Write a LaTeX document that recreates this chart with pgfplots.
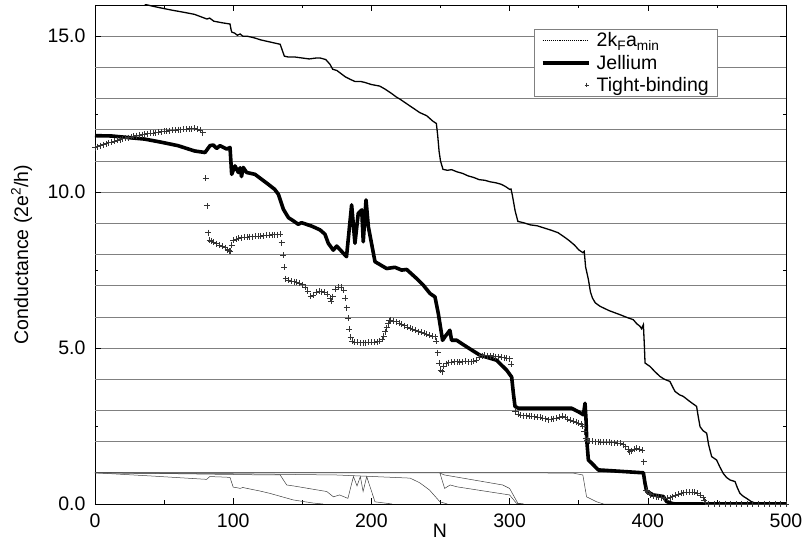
\documentclass[border=0pt]{standalone}
\usepackage{fontspec}
\setmainfont{Liberation Sans}
\usepackage{pgfplots}
\pgfplotsset{compat=1.18}
\definecolor{gridgray}{gray}{0.5}
\definecolor{tbgray}{gray}{0.2}
\definecolor{chgray}{gray}{0.25}
\newcommand{\bigf}{\fontsize{19.5bp}{22bp}\selectfont}
\begin{document}
\begin{tikzpicture}
\begin{axis}[
  at={(0,0)}, anchor=south west,
  scale only axis, width=691bp, height=499bp,
  xmin=0, xmax=500, ymin=0, ymax=16,
  xtick={0,100,200,300,400,500}, xticklabels={0,100,200,300,400,500},
  ytick={0,5,10,15}, yticklabels={0.0,5.0,10.0,15.0},
  minor xtick={50,150,250,350,450}, minor ytick={2.5,7.5,12.5},
  tick align=inside, major tick length=6bp, minor tick length=3.5bp,
  ymajorgrids, grid style={gridgray, line width=0.7bp},
  extra y ticks={1,2,3,4,6,7,8,9,11,12,13,14},
  extra y tick labels={},
  extra y tick style={grid=major, major tick length=0pt},
  axis line style={line width=0.6bp},
  tick style={line width=0.6bp, black},
  tick label style={font=\bigf},
  yticklabel style={xshift=-6bp},
  xticklabel style={yshift=-6bp},
  xlabel={N}, ylabel={Conductance (2e\textsuperscript{2}/h)},
  label style={font=\bigf},
  xlabel style={at={(axis description cs:0.499,-0.054)}, anchor=center},
  ylabel style={at={(axis description cs:-0.106,0.5)}, anchor=center},
  legend style={at={(0.9016,0.9519)}, anchor=north east, draw=gridgray, line width=0.6bp,
    font=\bigf, inner xsep=7bp, inner ysep=1.5bp, row sep=2.5bp},
  legend cell align=left,
]
% individual channel transmissions
\addplot[chgray, line width=0.5bp, forget plot] coordinates {
(0,1.0) (100,1.0) (200,1.0) (300,1.0) (346,0.99) (353,0.93) (355.7,0.23) (363,0.07) (368,0) (500,0)};
\addplot[chgray, line width=0.5bp, forget plot] coordinates {
(0,1.0) (40,0.9) (80.8,0.79) (83,0.88) (95,0.86) (97.7,0.85) (100,0.54) (103,0.52) (105,0.5) (107,0.53) (110,0.5) (119,0.42) (126.6,0.34) (143.5,0.13) (158,0.03) (165,0)};
\addplot[chgray, line width=0.5bp, forget plot] coordinates {
(0,1.0) (60,0.97) (126.6,0.93) (134,0.93) (138.7,0.61) (143.5,0.58) (167.7,0.40) (172.5,0.23) (177,0.29) (183,0.18) (187,0.88) (189.6,0.58) (192,0.88) (194,0.40) (196.6,0.88) (202.6,0.07) (208,0.04) (215,0)};
\addplot[chgray, line width=0.5bp, forget plot] coordinates {
(0,1.0) (100,0.97) (175,0.93) (228,0.83) (235,0.68) (242,0.45) (249.6,0.07) (255,0)};
\addplot[chgray, line width=0.5bp, forget plot] coordinates {
(249.6,0.99) (253,0.93) (295,0.61) (300,0.50) (306,0.02) (310,0)};
\addplot[chgray, line width=0.5bp, forget plot] coordinates {
(249.6,0.99) (253,0.5) (257,0.61) (262,0.55) (300,0.29) (305,0.02) (310,0)};
% 2kFamin
\addplot[black, line width=1.3bp,
  legend image code/.code={\draw[black, densely dotted, line width=1.1bp] (0bp,0bp) -- (46bp,0bp);
    \path[draw=none, fill=none] (0bp,0bp) -- (52bp,0bp);}]
coordinates {
(36,16.02) (45,15.93) (55,15.84) (65,15.76) (72,15.7) (78,15.6) (81,15.55) (83,15.58) (86,15.48)
(92,15.43) (97.7,15.39) (98.5,15.2) (99,15.13) (101,15.1) (103,15.03) (105,15.07) (107,15.0)
(110,15.0) (115,14.95) (120,14.88) (125,14.83) (130,14.78) (134,14.74) (135.5,14.55) (137,14.36)
(140,14.33) (145,14.33) (150,14.3) (155,14.27) (160,14.3) (163,14.3) (167,14.25) (170,14.1)
(172,13.94) (175,13.9) (178,13.8) (181,13.7) (184.5,13.62) (188,13.55) (192,13.55) (195,13.52)
(200,13.45) (206,13.4) (210,13.3) (215,13.15) (218,13.05) (220.7,12.98) (225,12.85) (230,12.7)
(235,12.55) (240,12.45) (244.6,12.27) (246,12.23) (247,12.2) (248,11.8) (249,11.3) (250,11.0)
(251.8,10.73) (255,10.7) (258,10.72) (262,10.65) (266,10.6) (270,10.52) (274,10.47) (278,10.4)
(282,10.38) (286,10.33) (290,10.3) (294,10.25) (297,10.18) (300,10.09) (301,10.1) (302,9.9)
(304,9.4) (306,9.06) (310,9.02) (315,8.95) (320,8.92) (325,8.85) (330,8.78) (335,8.7) (339,8.58)
(343,8.45) (347,8.3) (350,8.15) (353,8.06) (354,8.1) (355,7.6) (357,7.2) (358.5,6.8) (360,6.6)
(362,6.45) (365.4,6.34) (372,6.2) (379.9,6.07) (385,5.98) (389.5,5.91) (392,5.78) (394.3,5.7)
(395.5,5.62) (396.8,5.75) (397.5,5.1) (398,4.52) (401.6,4.41) (405,4.25) (408.8,4.09) (412,4.0)
(416,3.93) (418,3.75) (419.7,3.61) (423,3.5) (425.7,3.45) (430,3.3) (435.3,3.13) (436.5,2.8)
(437.8,2.48) (440,2.35) (442.6,2.27) (444,1.9) (446.2,1.52) (449.8,1.41) (452,1.2) (454.6,0.98)
(457,0.85) (459.5,0.77) (463.1,0.72) (465,0.5) (466.7,0.34) (469,0.25) (471.5,0.18) (475.1,0.07)
(478.8,0.02) (482,0) (500,0)};
\addlegendentry{2k\textsubscript{F}a\textsubscript{min}}
% Jellium
\addplot[black, line width=3.6bp, line join=round,
  legend image code/.code={\draw[black, line width=3.6bp] (0bp,0bp) -- (46bp,0bp);
    \path[draw=none, fill=none] (0bp,0bp) -- (52bp,0bp);}]
coordinates {
(0,11.81) (12,11.8) (24,11.75) (36,11.7) (48,11.6) (60,11.49) (72,11.32) (79.6,11.27) (83.2,11.49)
(85.6,11.51) (88,11.4) (90.4,11.49) (95.3,11.38) (97.7,11.43) (98.9,10.57) (101.3,10.84)
(103.7,10.63) (105,10.78) (106,10.5) (107.3,10.79) (109.7,10.63) (115.8,10.57) (125.4,10.25)
(130,10.09) (132.7,9.93) (136.3,9.45) (140,9.18) (143.5,9.08) (147,8.97) (149.5,9.02) (156.8,8.91)
(162.8,8.79) (166.4,8.65) (168.8,8.36) (172.4,8.14) (174.9,8.27) (182,7.93) (185.7,9.59) (188.1,8.36)
(190.5,9.32) (193,9.43) (194.1,8.41) (196.1,9.75) (197.8,8.89) (202.6,7.77) (211,7.55) (217,7.59)
(221.9,7.5) (225.5,7.52) (232.7,7.23) (237.5,7.02) (242.4,6.75) (246,6.64) (248.4,6.11) (251.5,5.25)
(253.2,5.36) (256.8,5.57) (258,5.25) (261.7,5.25) (268.9,5.04) (278.6,4.77) (290.6,4.61) (297.9,4.29)
(301.5,4.07) (302.7,3.56) (303.9,3.13) (306.3,3.07) (344.9,3.07) (350.9,2.93) (353.4,2.86)
(354.6,3.23) (355.3,2.7) (355.8,2.06) (357,1.41) (359.4,1.31) (364.2,1.09) (365.4,1.09) (396.8,1.0)
(398,0.66) (399.2,0.4) (404,0.29) (411.2,0.24) (413.6,0.08) (417.3,0.02) (420,0) (500,0)};
\addlegendentry{Jellium}
% Tight-binding
\addplot[only marks, mark=+, mark size=3bp, tbgray, mark options={line width=0.75bp},
  legend image code/.code={\draw[tbgray, mark=+, mark size=2.2bp, mark options={line width=0.5bp}] plot coordinates {(44bp,0bp)};
    \path[draw=none, fill=none] (0bp,0bp) -- (52bp,0bp);}]
coordinates {
(0,11.43) (2,11.46) (4,11.49) (6,11.52) (8,11.55) (10,11.58) (12,11.60) (14,11.63) (16,11.66)
(18,11.68) (20,11.71) (22,11.73) (24,11.75) (26,11.77) (28,11.79) (30,11.81) (32,11.82) (34,11.84)
(36,11.86) (38,11.87) (40,11.88) (42,11.89) (44,11.91) (46,11.92) (48,11.94) (50,11.95) (52,11.96)
(54,11.97) (56,11.98) (58,11.99) (60,12.0) (62,12.0) (64,12.01) (66,12.02) (68,12.03) (70,12.03)
(72,12.04) (74,12.02) (76,11.98) (78,11.9)
(80,10.44) (81,9.56) (82,8.70) (83,8.45)
(84,8.43) (86,8.39) (88,8.35) (90,8.3) (92,8.26) (94,8.22) (96,8.16) (97,8.12) (98,8.11) (99,8.3)
(100,8.45) (102,8.5) (104,8.52) (106,8.54) (108,8.55) (110,8.56) (112,8.57) (114,8.57) (116,8.58)
(118,8.58) (120,8.59) (122,8.6) (124,8.61) (126,8.62) (128,8.63) (130,8.63) (132,8.64) (134,8.65)
(135,8.38) (136,7.97) (137,7.59) (138,7.23)
(140,7.18) (142,7.15) (144,7.13) (146,7.11) (148,7.09) (150,7.03) (152,6.95) (154,6.82) (156,6.66)
(158,6.7) (160,6.8) (162,6.82) (164,6.81) (166,6.79) (168,6.72) (170,6.6) (171,6.5) (172,6.65)
(174,6.88) (176,6.96) (178,6.95) (180,6.85) (181,6.6) (182,6.3) (183,5.95) (184,5.6) (185,5.35)
(186,5.22) (188,5.19) (190,5.18) (192,5.17) (194,5.17) (196,5.17) (198,5.18) (200,5.18) (202,5.19)
(204,5.2) (206,5.23) (208,5.28) (209,5.38) (210,5.52) (211,5.65) (212,5.78) (213,5.88) (214,5.9)
(216,5.87) (218,5.84) (220,5.8) (222,5.76) (224,5.72) (226,5.67) (228,5.63) (230,5.6) (232,5.57)
(234,5.53) (236,5.5) (238,5.47) (240,5.44) (242,5.41) (244,5.38) (246,5.36) (247,5.22)
(248,4.85) (249,4.52) (250,4.3) (251,4.24)
(252,4.42) (254,4.5) (256,4.53) (258,4.55) (260,4.56) (262,4.56) (264,4.55) (266,4.56) (268,4.57)
(270,4.56) (272,4.56) (274,4.58) (276,4.62) (278,4.7) (280,4.76) (282,4.77) (284,4.76) (286,4.75)
(288,4.73) (290,4.72) (292,4.72) (294,4.7) (296,4.69) (298,4.67) (300,4.66) (301,4.48)
(304,2.98) (306,2.88) (308,2.85) (310,2.83) (312,2.83) (314,2.82) (316,2.81) (318,2.8) (320,2.79)
(322,2.78) (324,2.76) (326,2.73) (328,2.7) (330,2.71) (332,2.74) (334,2.76) (336,2.79) (338,2.82)
(340,2.79) (342,2.72) (344,2.69) (346,2.66) (348,2.63) (350,2.6) (352,2.55) (353,2.5) (354,2.32)
(355,2.1) (356,2.05) (358,2.02) (360,2.01) (362,2.0) (364,2.0) (366,1.99) (368,1.99) (370,1.98)
(372,1.98) (374,1.97) (376,1.96) (378,1.95) (380,1.94) (382,1.9) (384,1.84) (386,1.74) (387,1.68)
(388,1.71) (390,1.76) (392,1.78) (394,1.76) (396,1.73) (397,1.36)
(399,0.45) (400,0.4) (401,0.35) (402,0.3) (404,0.26) (406,0.24) (408,0.22) (410,0.2) (412,0.19)
(414,0.19) (416,0.2) (418,0.24) (420,0.28) (422,0.31) (424,0.34) (426,0.36) (428,0.37) (430,0.38)
(432,0.38) (434,0.37) (436,0.35) (438,0.29) (440,0.2) (441,0.13) (442,0.05) (444,0) (448,0)
(452,0) (456,0) (460,0) (464,0) (468,0) (472,0) (476,0) (480,0) (484,0) (488,0) (492,0) (496,0) (500,0)};
\addlegendentry{Tight-binding}
\end{axis}
\pgfresetboundingbox
\useasboundingbox (-95bp,-51bp) rectangle (707bp,504bp);
\end{tikzpicture}
\end{document}
